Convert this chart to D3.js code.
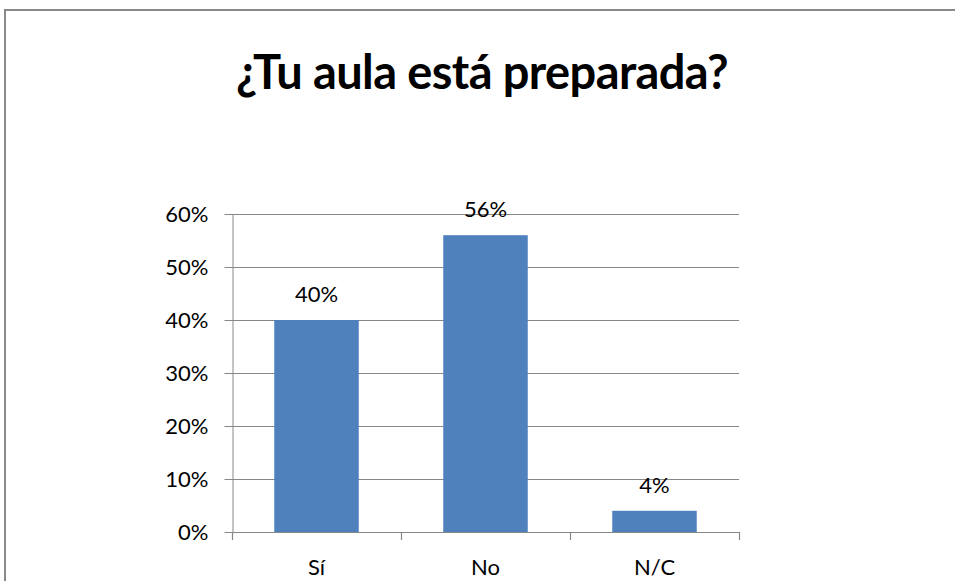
<!DOCTYPE html>
<html>
<head>
<meta charset="utf-8">
<script src="https://cdn.jsdelivr.net/npm/d3@7"></script>
<style>
  body { margin: 0; background: #fff; }
  svg { display: block; }
  text { font-family: Lato, "Open Sans", sans-serif; fill: #000; }
</style>
</head>
<body>
<div id="chart"></div>
<script>
const categories = ['Sí', 'No', 'N/C']
const values = [0.40, 0.56, 0.04]
const valueLabels = ['40%', '56%', '4%']
const yTicks = [0, 0.1, 0.2, 0.3, 0.4, 0.5, 0.6]
const title = '¿Tu aula está preparada?'

const width = 955
const height = 581
const margin = {left: 232, top: 214, right: 216, bottom: 49}

let svg = d3.select('#chart').append('svg')
.attr('width', width)
.attr('height', height)

// chart frame
svg.append('rect')
.attr('x', 5)
.attr('y', 10)
.attr('width', 980)
.attr('height', 620)
.attr('fill', '#fff')
.attr('stroke', '#898989')
.attr('stroke-width', 2)

svg.append('text')
.attr('x', 482)
.attr('y', 89)
.attr('text-anchor', 'middle')
.style('font-size', '47px')
.style('font-weight', 'bold')
.style('letter-spacing', '-0.6px')
.text(title)

let xScale = d3.scaleBand()
.domain(categories)
.range([margin.left, width - margin.right])
.paddingInner(0.5)
.paddingOuter(0.25)

let yScale = d3.scaleLinear()
.domain([0, 0.6])
.range([height - margin.bottom, margin.top])

// gridlines
svg.append('g')
.selectAll('line')
.data(yTicks.filter(d => d > 0))
.join('line')
.attr('x1', margin.left)
.attr('x2', width - margin.right)
.attr('y1', d => yScale(d) + 0.5)
.attr('y2', d => yScale(d) + 0.5)
.attr('stroke', '#878787')
.attr('stroke-width', 1.2)

let yaxis = svg.append('g')
.attr('transform', `translate(${margin.left + 0.5},0)`)
.call(d3.axisLeft(yScale).tickValues(yTicks).tickSizeInner(8).tickSizeOuter(0).tickPadding(16).tickFormat(d3.format('.0%')))

yaxis.select('.domain').attr('stroke', '#878787')
yaxis.selectAll('.tick line').attr('stroke', '#878787')
yaxis.selectAll('text').style('font-size', '22px').attr('fill', '#000')
yaxis.selectAll('.tick').attr('transform', d => `translate(0,${yScale(d) + 0.5})`)

svg.append('g')
.selectAll('rect')
.data(values)
.join('rect')
.attr('x', (d, i) => xScale(categories[i]))
.attr('y', d => yScale(d))
.attr('width', xScale.bandwidth())
.attr('height', d => yScale(0) - yScale(d))
.attr('fill', '#4f81bd')

svg.append('g')
.selectAll('text')
.data(values)
.join('text')
.attr('x', (d, i) => xScale(categories[i]) + xScale.bandwidth() / 2)
.attr('y', d => yScale(d) - 18)
.attr('text-anchor', 'middle')
.style('font-size', '22px')
.text((d, i) => valueLabels[i])

// x axis line and category ticks
let step = xScale.step()
let x0 = margin.left
let xaxis = svg.append('g')
xaxis.append('line')
.attr('x1', x0)
.attr('x2', width - margin.right + 1)
.attr('y1', yScale(0) + 0.5)
.attr('y2', yScale(0) + 0.5)
.attr('stroke', '#878787')
.attr('stroke-width', 1.2)

xaxis.selectAll('line.tick')
.data(d3.range(categories.length + 1))
.join('line')
.attr('class', 'tick')
.attr('x1', i => x0 + i * step + 0.5)
.attr('x2', i => x0 + i * step + 0.5)
.attr('y1', yScale(0))
.attr('y2', yScale(0) + 8)
.attr('stroke', '#878787')
.attr('stroke-width', 1.2)

xaxis.selectAll('text')
.data(categories)
.join('text')
.attr('x', d => xScale(d) + xScale.bandwidth() / 2)
.attr('y', 575)
.attr('text-anchor', 'middle')
.style('font-size', '22px')
.text(d => d)
</script>
</body>
</html>
